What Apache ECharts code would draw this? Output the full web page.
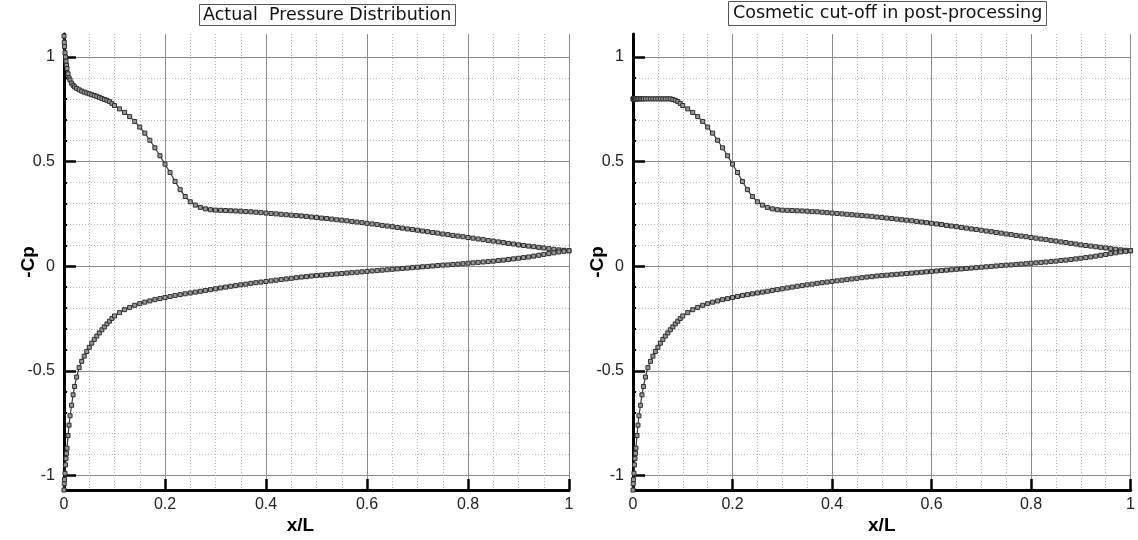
<!DOCTYPE html>
<html>
<head>
<meta charset="utf-8">
<title>Pressure distribution</title>
<script src="https://cdn.jsdelivr.net/npm/echarts@6/dist/echarts.min.js"></script>
<style>
  html, body { margin: 0; padding: 0; background: #fff; }
  #chart { width: 1138px; height: 540px; }
</style>
</head>
<body>
<div id="chart"></div>
<script>
// Chord stations x/L shared by both surfaces
const xStations = [
  0, 0.0005, 0.001, 0.002, 0.003, 0.004, 0.005, 0.006, 0.008, 0.010,
  0.012, 0.015, 0.018, 0.021, 0.025, 0.03, 0.035, 0.04, 0.045, 0.05,
  0.055, 0.06, 0.065, 0.07, 0.075, 0.08, 0.085, 0.09, 0.095,
  0.10, 0.11, 0.12, 0.13, 0.14, 0.15, 0.16, 0.17, 0.18, 0.19,
  0.20, 0.21, 0.22, 0.23, 0.24, 0.25, 0.26, 0.27, 0.28, 0.29,
  0.30, 0.31, 0.32, 0.33, 0.34, 0.35, 0.36, 0.37, 0.38, 0.39,
  0.40, 0.41, 0.42, 0.43, 0.44, 0.45, 0.46, 0.47, 0.48, 0.49,
  0.50, 0.51, 0.52, 0.53, 0.54, 0.55, 0.56, 0.57, 0.58, 0.59,
  0.60, 0.61, 0.62, 0.63, 0.64, 0.65, 0.66, 0.67, 0.68, 0.69,
  0.70, 0.71, 0.72, 0.73, 0.74, 0.75, 0.76, 0.77, 0.78, 0.79,
  0.80, 0.81, 0.82, 0.83, 0.84, 0.85, 0.86, 0.87, 0.88, 0.89,
  0.90, 0.91, 0.92, 0.93, 0.94, 0.95, 0.96, 0.97, 0.98, 0.99,
  1.00
];

// -Cp on the suction (upper) surface
const cpUpper = [
  1.10, 1.07, 1.05, 1.02, 1.00, 0.98, 0.96, 0.945, 0.92, 0.90,
  0.89, 0.875, 0.865, 0.857, 0.85, 0.843, 0.837, 0.832, 0.828, 0.824,
  0.82, 0.816, 0.812, 0.807, 0.802, 0.797, 0.793, 0.787, 0.778,
  0.768, 0.752, 0.735, 0.715, 0.692, 0.665, 0.636, 0.602, 0.566, 0.528,
  0.488, 0.448, 0.405, 0.366, 0.333, 0.308, 0.292, 0.281, 0.274, 0.270,
  0.268, 0.267, 0.266, 0.265, 0.264, 0.263, 0.261, 0.260, 0.258, 0.256,
  0.254, 0.252, 0.250, 0.248, 0.246, 0.244, 0.242, 0.240, 0.238, 0.235,
  0.233, 0.230, 0.228, 0.225, 0.222, 0.220, 0.217, 0.214, 0.211, 0.208,
  0.205, 0.202, 0.199, 0.195, 0.192, 0.189, 0.185, 0.182, 0.178, 0.175,
  0.172, 0.168, 0.165, 0.161, 0.158, 0.154, 0.151, 0.147, 0.144, 0.141,
  0.137, 0.134, 0.130, 0.127, 0.123, 0.120, 0.116, 0.113, 0.109, 0.106,
  0.102, 0.099, 0.096, 0.093, 0.090, 0.087, 0.084, 0.081, 0.078, 0.076,
  0.074
];

// -Cp on the upper surface after the 0.8 display cut-off
const cpUpperCut = [
  0.80, 0.80, 0.80, 0.80, 0.80, 0.80, 0.80, 0.80, 0.80, 0.80,
  0.80, 0.80, 0.80, 0.80, 0.80, 0.80, 0.80, 0.80, 0.80, 0.80,
  0.80, 0.80, 0.80, 0.80, 0.80, 0.797, 0.793, 0.787, 0.778,
  0.768, 0.752, 0.735, 0.715, 0.692, 0.665, 0.636, 0.602, 0.566, 0.528,
  0.488, 0.448, 0.405, 0.366, 0.333, 0.308, 0.292, 0.281, 0.274, 0.270,
  0.268, 0.267, 0.266, 0.265, 0.264, 0.263, 0.261, 0.260, 0.258, 0.256,
  0.254, 0.252, 0.250, 0.248, 0.246, 0.244, 0.242, 0.240, 0.238, 0.235,
  0.233, 0.230, 0.228, 0.225, 0.222, 0.220, 0.217, 0.214, 0.211, 0.208,
  0.205, 0.202, 0.199, 0.195, 0.192, 0.189, 0.185, 0.182, 0.178, 0.175,
  0.172, 0.168, 0.165, 0.161, 0.158, 0.154, 0.151, 0.147, 0.144, 0.141,
  0.137, 0.134, 0.130, 0.127, 0.123, 0.120, 0.116, 0.113, 0.109, 0.106,
  0.102, 0.099, 0.096, 0.093, 0.090, 0.087, 0.084, 0.081, 0.078, 0.076,
  0.074
];

// -Cp on the pressure (lower) surface
const cpLower = [
  -1.07, -1.04, -1.02, -0.99, -0.95, -0.92, -0.895, -0.87, -0.81, -0.76,
  -0.715, -0.665, -0.615, -0.575, -0.53, -0.485, -0.455, -0.43, -0.408, -0.388,
  -0.368, -0.35, -0.334, -0.319, -0.304, -0.29, -0.276, -0.263, -0.25,
  -0.238, -0.222, -0.208, -0.197, -0.187, -0.179, -0.172, -0.166, -0.160, -0.155,
  -0.150, -0.145, -0.140, -0.136, -0.132, -0.128, -0.124, -0.120, -0.116, -0.112,
  -0.108, -0.104, -0.100, -0.096, -0.093, -0.089, -0.086, -0.082, -0.079, -0.076,
  -0.073, -0.070, -0.067, -0.064, -0.061, -0.058, -0.055, -0.052, -0.050, -0.047,
  -0.045, -0.043, -0.041, -0.039, -0.037, -0.035, -0.033, -0.031, -0.029, -0.027,
  -0.025, -0.023, -0.021, -0.019, -0.017, -0.015, -0.013, -0.011, -0.009, -0.007,
  -0.005, -0.003, -0.001, 0.001, 0.003, 0.005, 0.006, 0.008, 0.010, 0.012,
  0.014, 0.016, 0.018, 0.020, 0.022, 0.024, 0.027, 0.029, 0.032, 0.035,
  0.038, 0.041, 0.044, 0.048, 0.052, 0.056, 0.060, 0.064, 0.068, 0.071,
  0.074
];

const panelTitles = ['Actual  Pressure Distribution', 'Cosmetic cut-off in post-processing'];
const yMajorTicks = [-1, -0.5, 0, 0.5, 1];
const yMinorTicks = [-0.9, -0.8, -0.7, -0.6, -0.4, -0.3, -0.2, -0.1,
                     0.1, 0.2, 0.3, 0.4, 0.6, 0.7, 0.8, 0.9];
const xTickStep = 0.2;

const toPairs = (ys) => xStations.map((x, i) => [x, ys[i]]);

const FONT = 'Liberation Sans, Arial, sans-serif';
const TITLE_FONT = 'DejaVu Sans, sans-serif';
const Y_MIN = -1.07, Y_MAX = 1.11;

function xAxisFor(idx) {
  return {
    type: 'value', gridIndex: idx, min: 0, max: 1, interval: xTickStep,
    name: 'x/L', nameLocation: 'middle', nameGap: 26, nameMoveOverlap: false,
    nameTextStyle: { fontFamily: FONT, fontSize: 19, fontWeight: 'bold', color: '#000',
                     padding: idx === 0 ? [0, 32, 0, 0] : 0 },
    axisLine: { onZero: false, lineStyle: { color: '#000', width: 3 } },
    axisTick: { inside: true, length: 11, lineStyle: { color: '#000', width: 2.5 } },
    axisLabel: { fontFamily: FONT, fontSize: 16, color: '#222', margin: 7 },
    splitLine: { show: true, lineStyle: { color: '#8a8a8a', width: 1 } },
    minorTick: { show: false, splitNumber: 4 },
    minorSplitLine: { show: true, lineStyle: { color: '#b8b8b8', width: 1, type: [1, 2] } }
  };
}

function yAxesFor(idx) {
  return [{
    type: 'value', gridIndex: idx, position: 'left', min: Y_MIN, max: Y_MAX,
    name: '-Cp', nameLocation: 'middle', nameRotate: 90, nameGap: 26, nameMoveOverlap: false,
    nameTextStyle: { fontFamily: FONT, fontSize: 19, fontWeight: 'bold', color: '#000' },
    axisLine: { onZero: false, lineStyle: { color: '#000', width: 3 } },
    axisTick: { inside: true, length: 12, customValues: yMajorTicks,
                lineStyle: { color: '#000', width: 2.5 } },
    axisLabel: { customValues: yMajorTicks, fontFamily: FONT, fontSize: 16, color: '#222', margin: 9 },
    splitLine: { show: true, lineStyle: { color: '#8a8a8a', width: 1 } }
  }, {
    type: 'value', gridIndex: idx, position: 'left', min: Y_MIN, max: Y_MAX, z: -1,
    axisLine: { show: false, onZero: false },
    axisTick: { inside: true, length: 3, customValues: yMinorTicks,
                lineStyle: { color: '#000', width: 2 } },
    axisLabel: { show: false },
    splitLine: { show: true, lineStyle: { color: '#b8b8b8', width: 1, type: [1, 2] } }
  }];
}

function curve(idx, ys) {
  return {
    type: 'line', xAxisIndex: idx, yAxisIndex: idx * 2, data: toPairs(ys),
    symbol: 'rect', symbolSize: 4, showSymbol: true, clip: false,
    itemStyle: { color: '#999', borderColor: '#2e2e2e', borderWidth: 1 },
    lineStyle: { color: '#3a3a3a', width: 1.2 },
    emphasis: { disabled: true }
  };
}

const chart = echarts.init(document.getElementById('chart'), null, { renderer: 'canvas' });
chart.setOption({
  animation: false,
  backgroundColor: '#fff',
  title: [
    { text: panelTitles[0], left: 199, top: 4, padding: [2, 4, 2, 4],
      borderColor: '#555', borderWidth: 1,
      textStyle: { fontFamily: TITLE_FONT, fontSize: 17.5, fontWeight: 'normal', color: '#111' } },
    { text: panelTitles[1], left: 728, top: 1, padding: [3, 5, 4, 5],
      borderColor: '#555', borderWidth: 1,
      textStyle: { fontFamily: TITLE_FONT, fontSize: 17.5, fontWeight: 'normal', color: '#111' } }
  ],
  grid: [
    { left: 64, top: 34, width: 505, height: 463 },
    { left: 633, top: 34, width: 504, height: 463 }
  ],
  xAxis: [xAxisFor(0), xAxisFor(1)],
  yAxis: [...yAxesFor(0), ...yAxesFor(1)],
  series: [
    curve(0, cpUpper), curve(0, cpLower),
    curve(1, cpUpperCut), curve(1, cpLower)
  ]
});
</script>
</body>
</html>
